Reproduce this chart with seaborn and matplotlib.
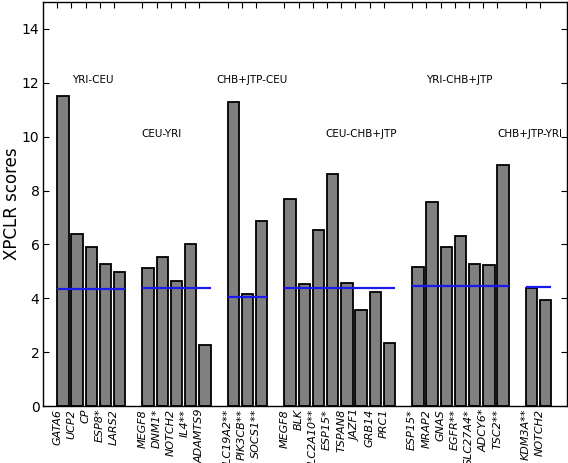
import numpy as np
import pandas as pd
import matplotlib
matplotlib.use("Agg")
import matplotlib.pyplot as plt
import seaborn as sns

# comparisons (one block of bars each)
groups = ["YRI-CEU", "CEU-YRI", "CHB+JTP-CEU", "CEU-CHB+JTP", "YRI-CHB+JTP", "CHB+JTP-YRI"]

genes = [
    ["GATA6", "UCP2", "CP", "ESP8*", "LARS2"],
    ["MEGF8", "DNM1*", "NOTCH2", "IL4**", "ADAMTS9"],
    ["SLC19A2**", "PIK3CB**", "SOCS1**"],
    ["MEGF8", "BLK", "SLC2A10**", "ESP15*", "TSPAN8", "JAZF1", "GRB14", "PRC1"],
    ["ESP15*", "MRAP2", "GNAS", "EGFR**", "SLC27A4*", "ADCY6*", "TSC2**"],
    ["KDM3A**", "NOTCH2"],
]

scores = [
    [11.5, 6.4, 5.9, 5.28, 4.97],
    [5.11, 5.55, 4.64, 6.03, 2.25],
    [11.28, 4.17, 6.87],
    [7.67, 4.53, 6.55, 8.62, 4.56, 3.58, 4.24, 2.35],
    [5.16, 7.59, 5.91, 6.32, 5.27, 5.23, 8.96],
    [4.37, 3.92],
]

# significance threshold per comparison (blue lines)
thresholds = [4.33, 4.37, 4.06, 4.37, 4.46, 4.40]

# build table: one empty slot between blocks
rows = []
start = 0
for g, names, vals in zip(groups, genes, scores):
    for i, (n, v) in enumerate(zip(names, vals)):
        rows.append({"group": g, "gene": n, "score": v, "pos": start + i})
    start += len(names) + 1
df = pd.DataFrame(rows)

fig = plt.figure(figsize=(5.68, 4.63), dpi=100)
ax = fig.add_axes([0.0757, 0.1231, 0.9225, 0.8726])

sns.barplot(data=df, x="pos", y="score", native_scale=True, width=0.8,
            color="#808080", edgecolor="black", linewidth=1.3,
            errorbar=None, saturation=1, ax=ax)

# threshold lines and block titles
label_shift = [0.1, -1.05, 0.3, 1.5, -0.1, -0.6]
for k, g in enumerate(groups):
    p = df.loc[df["group"] == g, "pos"]
    ax.hlines(thresholds[k], p.min() - 0.4, p.max() + 0.4, color="#1a1aee", lw=1.6, zorder=3)
    ty = 12.1 if k % 2 == 0 else 10.1
    ax.text((p.min() + p.max()) / 2 + label_shift[k], ty, g, ha="center", va="center", fontsize=7.5)

ax.set_xlim(-1.4, 35.5)
ax.set_ylim(0, 15)
ax.set_xticks(df["pos"] - 0.4)
ax.set_xticklabels(df["gene"], rotation=90, style="italic", fontsize=8)
ax.set_yticks(np.arange(0, 15, 2))
ax.tick_params(axis="y", labelsize=10, direction="in", length=4, pad=2.5, left=True, right=True)
ax.tick_params(axis="x", direction="in", length=4, pad=2, top=True, bottom=True)
ax.set_xlabel("")
ax.set_ylabel("XPCLR scores", fontsize=12, labelpad=1)
for s in ax.spines.values():
    s.set_linewidth(1.0)

fig.savefig("out.png", dpi=100)
